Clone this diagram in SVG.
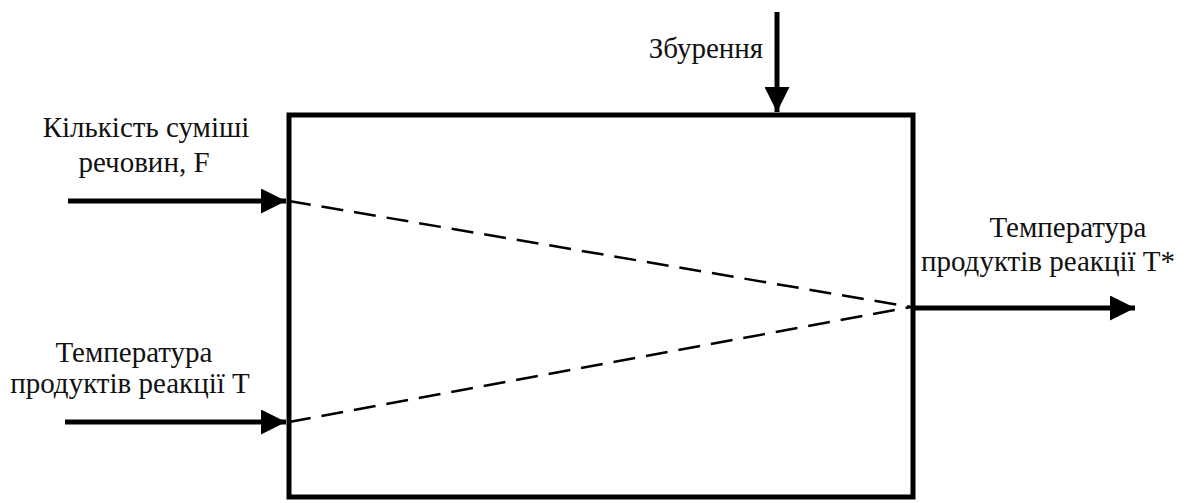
<svg xmlns="http://www.w3.org/2000/svg" width="1197" height="503" viewBox="0 0 1197 503">
<style>
text{font-family:'Liberation Serif','Times New Roman','DejaVu Serif',serif;font-size:29px;fill:#111;text-anchor:middle}
.arrow{stroke:#000;stroke-width:5;fill:none}
.dash{stroke:#000;stroke-width:2.5;fill:none;stroke-dasharray:22 11}
</style>
<defs>
<marker id="ah" viewBox="0 0 10 10" refX="10" refY="5" markerWidth="5" markerHeight="5" markerUnits="strokeWidth" orient="auto">
<path d="M0,0 L10,5 L0,10 z" fill="#000"/>
</marker>
</defs>
<rect width="1197" height="503" fill="#fff"/>
<g id="block">
<rect x="289" y="115" width="624" height="382" fill="#fff" stroke="#000" stroke-width="5"/>
</g>
<g id="connectors">
<line class="dash" x1="289" y1="201" x2="911" y2="307"/>
<line class="dash" x1="289" y1="422" x2="911" y2="307"/>
<line class="arrow" x1="68" y1="201" x2="286" y2="201" marker-end="url(#ah)"/>
<line class="arrow" x1="65" y1="422" x2="286" y2="422" marker-end="url(#ah)"/>
<line class="arrow" x1="777" y1="12" x2="777" y2="112" marker-end="url(#ah)"/>
<line class="arrow" x1="913" y1="308" x2="1135" y2="308" marker-end="url(#ah)"/>
</g>
<g id="label-f">
<text x="146" y="137">Кількість суміші</text>
<text x="144" y="172">речовин, F</text>
</g>
<g id="label-t-in">
<text x="134" y="362">Температура</text>
<text x="130" y="393">продуктів реакції Т</text>
</g>
<g id="label-dist">
<text x="706" y="58">Збурення</text>
</g>
<g id="label-t-out">
<text x="1068" y="237">Температура</text>
<text x="1048" y="271">продуктів реакції Т*</text>
</g>
</svg>
